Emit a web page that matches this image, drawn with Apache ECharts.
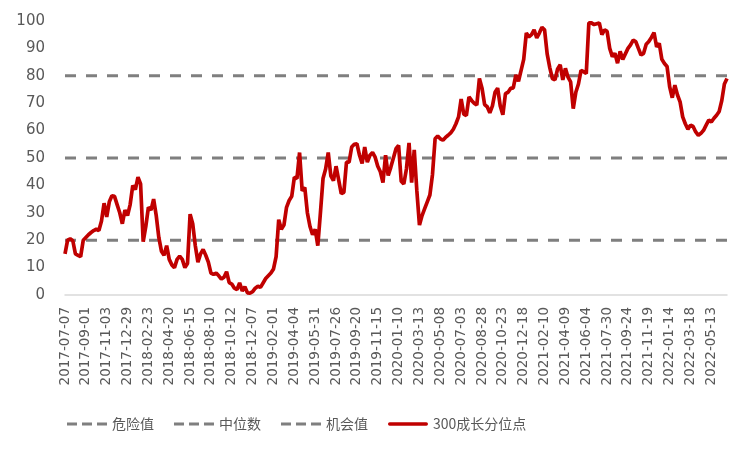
<!DOCTYPE html>
<html>
<head>
<meta charset="utf-8">
<script src="https://cdn.jsdelivr.net/npm/echarts@6/dist/echarts.min.js"></script>
<style>html,body{margin:0;padding:0;background:#fff;}#c{width:750px;height:450px;}</style>
</head>
<body>
<div id="c"></div>
<script>
// Tick labels shown on the x axis (every 8th weekly point)
const tickLabels = ["2017-07-07","2017-09-01","2017-11-03","2017-12-29","2018-02-23","2018-04-20","2018-06-15","2018-08-10","2018-10-12","2018-12-07","2019-02-01","2019-04-04","2019-05-31","2019-07-26","2019-09-20","2019-11-15","2020-01-10","2020-03-13","2020-05-08","2020-07-03","2020-08-28","2020-10-23","2020-12-18","2021-02-10","2021-04-09","2021-06-04","2021-07-30","2021-09-24","2021-11-19","2022-01-14","2022-03-18","2022-05-13"];
const pointsAfterLastLabel = 7;

// 300成长分位点 weekly values
const growthPct = [
15,20,20.5,19.8,15,14.5,14,20,21,22,22.8,23.5,24,23.5,27,33.5,28.5,34,36.2,36,
33,30,26,31,29,33,40,38.5,43,40.5,19.5,25,32,31,35,29,21,16,14.5,18,
13,11,10,13,14.2,13,10,11.5,29.5,26,18,12,15,16.6,14.5,12,8,7.5,8,7,
5.8,6.5,8.5,4.5,4,2.5,2,4.4,1.5,3,0.8,0.7,1.2,2.5,3.2,2.8,4.4,6,7,8,
9.5,14,27.5,24,25.5,32,34.5,36,43,42.5,52,38,39.3,30,25,22,24,18,30,42.5,
46,52,43.5,41.7,47,42,37,37.5,48.5,48.5,54,55,55.2,51,48,54,48.5,51,52,50.3,
47,45,41,51,43.6,46.6,50,53.4,54.6,41.5,40.5,46,55.5,41,53,38,25.5,29,31.5,34,
36.5,44,57,58,57,56.5,57.5,58.3,59.2,60.5,62.5,65,71.5,66,65.5,72.3,71,70,69.3,79,
75.5,69.5,68.7,66.5,69,74,75.5,69,65.8,73.5,74,75.4,75.6,80.3,78,82,86,95.6,94.2,95,
96.8,93.8,95.6,97.7,96.8,88,83,79,78.5,82.5,84,78.5,82.7,79.5,77.8,68,74,77,82,81.5,
80.8,99.3,99.3,98.7,99,99.3,95,96.8,96.2,90,87,88.2,84.6,88.9,86,88,90,91.3,93,92.5,
90,87.6,88.2,91.5,92.5,94,95.8,90.5,91.9,86,84.5,83.4,76,72,76.6,73,70.5,65,62.5,60.5,
62,61.5,59.5,58.3,59,60.1,62,63.8,63.2,64.5,65.6,67,71,77,79
];

// Reference levels
const dangerLevel = 80;   // 危险值
const medianLevel = 50;   // 中位数
const chanceLevel = 20;   // 机会值

// Build weekly category dates: each labelled date followed by weekly dates until next label
function addDays(s, d) {
  const t = new Date(s + "T00:00:00Z");
  t.setUTCDate(t.getUTCDate() + d);
  return t.toISOString().slice(0, 10);
}
const categories = [];
tickLabels.forEach((lab, k) => {
  const n = k < tickLabels.length - 1 ? 8 : pointsAfterLastLabel;
  for (let j = 0; j < n; j++) categories.push(j === 0 ? lab : addDays(lab, 7 * j));
});
const labelSet = new Set(tickLabels);
const first = categories[0], last = categories[categories.length - 1];

const chart = echarts.init(document.getElementById('c'));
const gray = '#7f7f7f';
const red = '#c00000';
const dashIcon = 'path://M0,0h10v3h-10z M15,0h10v3h-10z M30,0h10v3h-10z';
const solidIcon = 'path://M1.5,0h37a1.5,1.5 0 0 1 0,3.5h-37a1.5,1.5 0 0 1 0,-3.5z';
function levelSeries(name, v) {
  return {
    name, type: 'line', data: [[first, v], [last, v]], showSymbol: false, symbol: 'none',
    lineStyle: { color: gray, width: 3, type: [11, 10] }, itemStyle: { color: gray },
    silent: true, z: 1
  };
}
chart.setOption({
  animation: false,
  grid: { left: 65, right: 23, top: 21, bottom: 155, containLabel: false },
  xAxis: {
    type: 'category', data: categories, boundaryGap: false,
    axisLine: { lineStyle: { color: '#d9d9d9', width: 1.5 } },
    axisTick: { show: false },
    axisLabel: {
      rotate: 90, interval: (i, v) => labelSet.has(v), margin: 12,
      fontFamily: 'DejaVu Sans', fontSize: 13.5, color: '#595959'
    },
    splitLine: { show: false }
  },
  yAxis: {
    type: 'value', min: 0, max: 100, interval: 10,
    axisLine: { show: false }, axisTick: { show: false }, splitLine: { show: false },
    axisLabel: { fontFamily: 'DejaVu Sans', fontSize: 15, color: '#595959', margin: 20 }
  },
  legend: {
    top: 412, left: 62, itemWidth: 40, itemHeight: 3.5, itemGap: 20,
    textStyle: { fontFamily: 'Noto Sans CJK SC', fontSize: 14, color: '#595959' },
    data: [
      { name: '危险值', icon: dashIcon, itemStyle: { color: gray } },
      { name: '中位数', icon: dashIcon, itemStyle: { color: gray } },
      { name: '机会值', icon: dashIcon, itemStyle: { color: gray } },
      { name: '300成长分位点', icon: solidIcon, itemStyle: { color: red } }
    ]
  },
  series: [
    levelSeries('危险值', dangerLevel),
    levelSeries('中位数', medianLevel),
    levelSeries('机会值', chanceLevel),
    {
      name: '300成长分位点', type: 'line', data: growthPct, showSymbol: false, symbol: 'none',
      lineStyle: { color: red, width: 3.7 }, itemStyle: { color: red }, z: 3
    }
  ]
});
</script>
</body>
</html>
